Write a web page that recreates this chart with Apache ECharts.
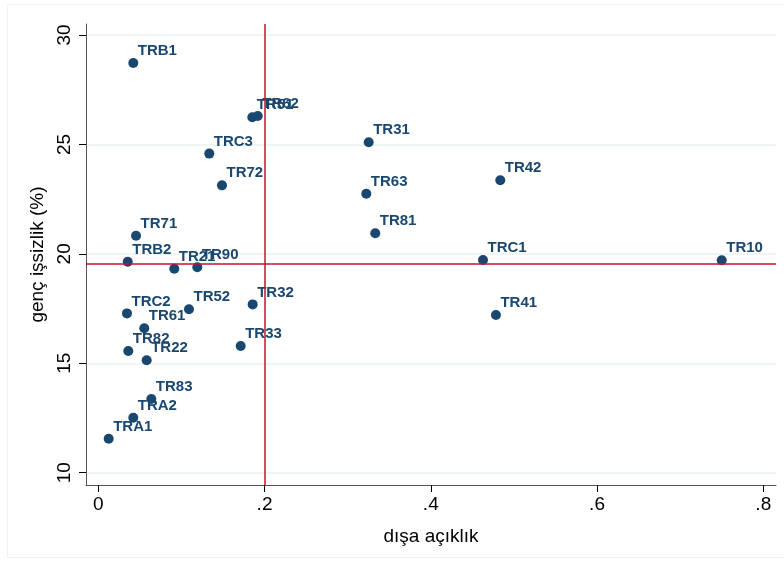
<!DOCTYPE html>
<html>
<head>
<meta charset="utf-8">
<script src="https://cdn.jsdelivr.net/npm/echarts@6/dist/echarts.min.js"></script>
<style>
html,body{margin:0;padding:0;background:#fff;}
#chart{width:784px;height:561px;}
</style>
</head>
<body>
<div id="chart"></div>
<script>
// Region codes
var regions = ['TRB1','TR51','TR62','TRC3','TR72','TR31','TR63','TR42','TR81','TRC1','TR41','TR10','TR71','TRB2','TR21','TR90','TRC2','TR52','TR32','TR61','TR33','TR82','TR22','TR83','TRA2','TRA1'];
// dışa açıklık (x)
var openness = [0.0421,0.1853,0.1918,0.1335,0.1488,0.3253,0.3224,0.4836,0.3332,0.4628,0.4784,0.7500,0.0454,0.0354,0.0914,0.1191,0.0345,0.1091,0.1857,0.0553,0.1713,0.0361,0.0582,0.0638,0.0421,0.0125];
// genç işsizlik (%) (y)
var youthUnemp = [28.72,26.24,26.30,24.58,23.13,25.10,22.75,23.36,20.94,19.72,17.21,19.71,20.83,19.64,19.32,19.39,17.28,17.47,17.69,16.60,15.79,15.56,15.14,13.37,12.51,11.55];
var xTicks = [0, 0.2, 0.4, 0.6, 0.8];
var yTicks = [10, 15, 20, 25, 30];
var refX = 0.2;
var refY = 19.57;

var pts = regions.map(function(r,i){ return {name:r, value:[openness[i], youthUnemp[i]]}; });
var FONT = 'Liberation Sans, Arial, sans-serif';
var chart = echarts.init(document.getElementById('chart'), null, {renderer:'canvas'});
chart.setOption({
  backgroundColor:'#ffffff',
  animation:false,
  graphic:[{type:'rect', shape:{x:7.5,y:4.5,width:777,height:553}, style:{fill:'none', stroke:'#eef2f4', lineWidth:1}, silent:true, z:0}],
  grid:{left:86, top:24, right:8, bottom:76, containLabel:false},
  xAxis:{
    type:'value', min:-0.0148, max:0.8153,
    name:'dışa açıklık', nameLocation:'middle', nameGap:42,
    nameTextStyle:{fontFamily:FONT, fontSize:19, color:'#000'},
    axisLine:{show:true, onZero:false, lineStyle:{color:'#555', width:1}},
    axisTick:{show:true, customValues:xTicks, length:7, lineStyle:{color:'#000'}},
    axisLabel:{customValues:xTicks, margin:10, fontFamily:FONT, fontSize:19, color:'#000',
      formatter:function(v){ if(Math.abs(v)<1e-9) return '0'; return String(Math.round(v*10)/10).replace(/^0/,''); }},
    splitLine:{show:false}
  },
  yAxis:{
    type:'value', min:9.438, max:30.503,
    name:'genç işsizlik (%)', nameLocation:'middle', nameGap:38, nameRotate:90,
    nameTextStyle:{fontFamily:FONT, fontSize:19, color:'#000'},
    axisLine:{show:true, onZero:false, lineStyle:{color:'#555', width:1}},
    axisTick:{show:true, customValues:yTicks, length:7, lineStyle:{color:'#000'}},
    axisLabel:{customValues:yTicks, rotate:90, margin:12, fontFamily:FONT, fontSize:19, color:'#000'},
    splitLine:{show:true, lineStyle:{color:'#eaf0f2', width:1.5}}
  },
  series:[{
    type:'scatter',
    data:pts,
    symbol:'circle', symbolSize:10,
    itemStyle:{color:'#1a476f', opacity:1},
    label:{show:true, position:[9.5,-14.5], align:'left', verticalAlign:'top',
      formatter:'{b}', fontFamily:FONT, fontSize:15, fontWeight:'bold', color:'#1a476f'},
    labelLayout:{hideOverlap:false},
    markLine:{
      silent:true, symbol:['none','none'], label:{show:false},
      lineStyle:{color:'#c8102e', width:1.5, type:'solid'},
      data:[{xAxis:refX},{yAxis:refY}]
    },
    z:3
  }]
});
</script>
</body>
</html>
